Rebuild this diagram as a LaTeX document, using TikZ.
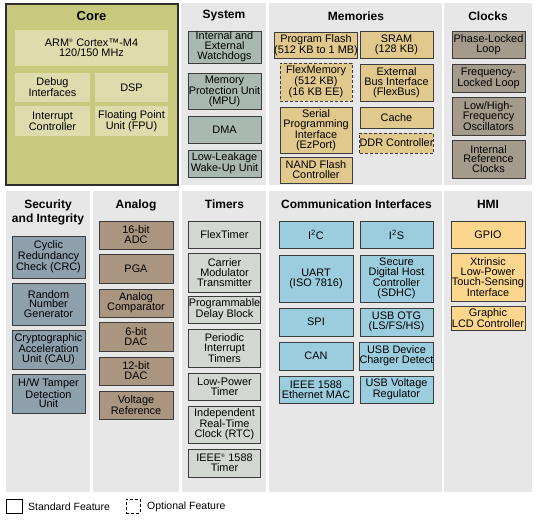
\documentclass[tikz,border=0pt]{standalone}
\usepackage{fontspec}
\setmainfont{Liberation Sans}
\definecolor{panelc}{HTML}{E7E7E7}
\definecolor{corec}{HTML}{C9C97E}
\definecolor{coreinc}{HTML}{DEDCAD}
\definecolor{corebd}{HTML}{2E2E2E}
\definecolor{sysc}{HTML}{A9B9B1}
\definecolor{memc}{HTML}{E1C88C}
\definecolor{clkc}{HTML}{A59B8C}
\definecolor{secc}{HTML}{8EA0AC}
\definecolor{anac}{HTML}{AA9680}
\definecolor{tmrc}{HTML}{D2D7D2}
\definecolor{comc}{HTML}{9BCDDE}
\definecolor{hmic}{HTML}{FDD68E}
\definecolor{bdc}{HTML}{3C3C3C}
\begin{document}
\begin{tikzpicture}[x=1pt,y=-1pt,
  sz/.style 2 args={minimum width=#1pt, minimum height=#2pt},
  panel/.style={fill=panelc, draw=none},
  ttl/.style={font=\fontsize{12}{12}\selectfont\bfseries, align=center, inner sep=0pt},
  blk/.style={draw=bdc, line width=0.9pt, inner sep=0pt, align=center, font=\fontsize{10.9}{9.9}\selectfont},
  inb/.style={fill=coreinc, draw=none, inner sep=0pt, align=center, font=\fontsize{10.9}{9.9}\selectfont},
  opt/.style={dash pattern=on 3pt off 2pt},
  sysb/.style={blk, fill=sysc},
  memb/.style={blk, fill=memc},
  clkb/.style={blk, fill=clkc},
  secb/.style={blk, fill=secc},
  anab/.style={blk, fill=anac},
  tmrb/.style={blk, fill=tmrc},
  comb/.style={blk, fill=comc},
  hmib/.style={blk, fill=hmic},
  lgd/.style={font=\fontsize{10.5}{11}\selectfont, anchor=west, inner sep=0pt}
]
\useasboundingbox (0,0) rectangle (542,520);
\fill[white] (0,0) rectangle (542,520);

% ---------- top row panels ----------
\node[fill=corec, draw=corebd, line width=2pt, sz={172}{181}, inner sep=0pt] (corep) at (91.5,94) {};
\node[panel, sz={85}{182}] (sysp) at (223.5,94) {};
\node[panel, sz={173}{182}] (memp) at (355.5,94) {};
\node[panel, sz={88}{182}] (clkp) at (488,94) {};

% ---------- bottom row panels ----------
\node[panel, sz={84}{301}] (secp) at (48,341.5) {};
\node[panel, sz={86}{301}] (anap) at (136,341.5) {};
\node[panel, sz={84}{301}] (tmrp) at (224,341.5) {};
\node[panel, sz={173}{301}] (comp) at (355.5,341.5) {};
\node[panel, sz={88}{301}] (hmip) at (488,341.5) {};

% ---------- Core ----------
\node[ttl, font=\fontsize{13}{13}\selectfont\bfseries] (coret) at (91.5,16) {Core};
\node[inb, sz={153}{36}] (arm) at (91.5,48) {ARM\textsuperscript{\tiny ®} Cortex™-M4\\120/150 MHz};
\node[inb, sz={75}{29}] (dbg) at (52.5,87.5) {Debug\\Interfaces};
\node[inb, sz={73}{29}] (dsp) at (131.5,87.5) {DSP};
\node[inb, sz={75}{30}] (intc) at (52.5,121) {Interrupt\\Controller};
\node[inb, sz={73}{30}] (fpu) at (131.5,121) {Floating Point\\Unit (FPU)};

% ---------- System ----------
\node[ttl] (syst) at (224,16) {System};
\node[sysb, sz={73}{32}] (wdog) at (224.5,47) {Internal and\\External\\Watchdogs};
\node[sysb, sz={73}{36}] (mpu) at (224.5,91) {Memory\\Protection Unit\\(MPU)};
\node[sysb, sz={73}{27}] (dma) at (224.5,129.5) {DMA};
\node[sysb, sz={73}{27}] (llwu) at (224.5,163.5) {Low-Leakage\\Wake-Up Unit};

% ---------- Memories ----------
\node[ttl] (memt) at (356,16) {Memories};
\node[memb, sz={72}{26}] (pflash) at (316,45) {Program Flash\\(512 KB to 1 MB)};
\node[memb, opt, sz={72}{38}] (flexm) at (316,82) {FlexMemory\\(512 KB)\\(16 KB EE)};
\node[memb, sz={72}{46}] (ezp) at (316,130) {Serial\\Programming\\Interface\\(EzPort)};
\node[memb, sz={72}{26}] (nand) at (316,170) {NAND Flash\\Controller};
\node[memb, sz={73}{27}] (sram) at (396.5,44.5) {SRAM\\(128 KB)};
\node[memb, sz={73}{37}] (fbus) at (396.5,82.5) {External\\Bus Interface\\(FlexBus)};
\node[memb, sz={73}{21}] (cache) at (396.5,117.5) {Cache};
\node[memb, opt, sz={73}{20}] (ddr) at (396.5,143) {DDR Controller};

% ---------- Clocks ----------
\node[ttl] (clkt) at (488,16) {Clocks};
\node[clkb, sz={73}{27}] (pll) at (488.5,44.5) {Phase-Locked\\Loop};
\node[clkb, sz={73}{28}] (fll) at (488.5,78) {Frequency-\\Locked Loop};
\node[clkb, sz={73}{38}] (osc) at (488.5,116) {Low/High-\\Frequency\\Oscillators};
\node[clkb, sz={73}{38}] (irc) at (488.5,159) {Internal\\Reference\\Clocks};

% ---------- Security ----------
\node[ttl, font=\fontsize{12}{14.5}\selectfont\bfseries] (sect) at (48,212.5) {Security\\and Integrity};
\node[secb, sz={73}{42}] (crc) at (48.5,257) {Cyclic\\Redundancy\\Check (CRC)};
\node[secb, sz={73}{42}] (rng) at (48.5,304) {Random\\Number\\Generator};
\node[secb, sz={73}{39}] (cau) at (48.5,349.5) {Cryptographic\\Acceleration\\Unit (CAU)};
\node[secb, sz={73}{39}] (tamp) at (48.5,393.5) {H/W Tamper\\Detection\\Unit};

% ---------- Analog ----------
\node[ttl] (anat) at (136,205) {Analog};
\node[anab, sz={74}{28}] (adc) at (136,235) {16-bit\\ADC};
\node[anab, sz={74}{29}] (pga) at (136,268.5) {PGA};
\node[anab, sz={74}{28}] (cmp) at (136,303) {Analog\\Comparator};
\node[anab, sz={74}{29}] (dac6) at (136,336.5) {6-bit\\DAC};
\node[anab, sz={74}{28}] (dac12) at (136,371) {12-bit\\DAC};
\node[anab, sz={74}{28}] (vref) at (136,405) {Voltage\\Reference};

% ---------- Timers ----------
\node[ttl] (tmrt) at (224.5,204) {Timers};
\node[tmrb, sz={72}{27}] (ftm) at (224.5,234.5) {FlexTimer};
\node[tmrb, sz={72}{39}] (cmt) at (224.5,272.5) {Carrier\\Modulator\\Transmitter};
\node[tmrb, sz={72}{27}] (pdb) at (224.5,309.5) {Programmable\\Delay Block};
\node[tmrb, sz={72}{38}] (pit) at (224.5,348) {Periodic\\Interrupt\\Timers};
\node[tmrb, sz={72}{27}] (lptmr) at (224.5,386.5) {Low-Power\\Timer};
\node[tmrb, sz={72}{37}] (rtc) at (224.5,424.5) {Independent\\Real-Time\\Clock (RTC)};
\node[tmrb, sz={72}{28}] (ieee) at (224.5,463) {IEEE\textsuperscript{\tiny ®} 1588\\Timer};

% ---------- Communication Interfaces ----------
\node[ttl] (comt) at (356.5,204) {Communication Interfaces};
\node[comb, sz={74}{27}] (i2c) at (316,234.5) {I\textsuperscript{2}C};
\node[comb, sz={74}{47}] (uart) at (316,278.5) {UART\\(ISO 7816)};
\node[comb, sz={74}{28}] (spi) at (316,322) {SPI};
\node[comb, sz={74}{28}] (can) at (316,356) {CAN};
\node[comb, sz={74}{27}] (enet) at (316,389.5) {IEEE 1588\\Ethernet MAC};
\node[comb, sz={73}{27}] (i2s) at (396.5,234.5) {I\textsuperscript{2}S};
\node[comb, sz={73}{47}] (sdhc) at (396.5,278.5) {Secure\\Digital Host\\Controller\\(SDHC)};
\node[comb, sz={73}{28}] (usbotg) at (396.5,322) {USB OTG\\(LS/FS/HS)};
\node[comb, sz={73}{28}] (usbdcd) at (396.5,356) {USB Device\\Charger Detect};
\node[comb, sz={73}{27}] (usbreg) at (396.5,389.5) {USB Voltage\\Regulator};

% ---------- HMI ----------
\node[ttl] (hmit) at (488,204) {HMI};
\node[hmib, sz={74}{27}] (gpio) at (488,234.5) {GPIO};
\node[hmib, sz={74}{48}] (tsi) at (488,277) {Xtrinsic\\Low-Power\\Touch-Sensing\\Interface};
\node[hmib, sz={74}{24}] (lcd) at (488,318) {Graphic\\LCD Controller};

% ---------- Legend ----------
\node[draw=black, line width=0.9pt, sz={16}{14}, inner sep=0pt] (lstd) at (14,506) {};
\node[lgd] (lstdt) at (28,507) {Standard Feature};
\node[draw=black, line width=0.9pt, opt, sz={14}{14}, inner sep=0pt] (lopt) at (133,506) {};
\node[lgd] (loptt) at (147,507) {Optional Feature};
\end{tikzpicture}
\end{document}
